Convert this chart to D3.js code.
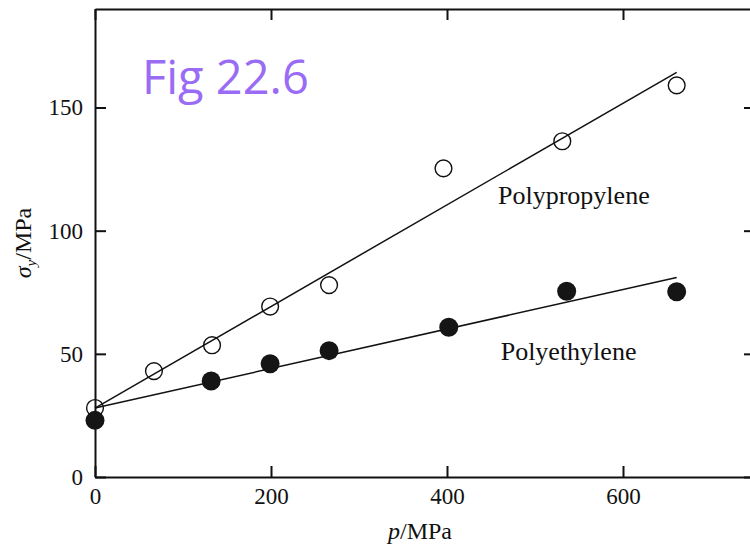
<!DOCTYPE html>
<html>
<head>
<meta charset="utf-8">
<script src="https://cdn.jsdelivr.net/npm/d3@7"></script>
<style>
  html, body { margin: 0; padding: 0; background: #fff; }
  svg { display: block; }
  .axis text { font-family: "Liberation Serif", "Times New Roman", serif; font-size: 23px; fill: #111; }
  .axis path, .axis line { stroke: #111; stroke-width: 2; }
</style>
</head>
<body>
<script>
// Yield stress vs. hydrostatic pressure
const pressurePP = [0, 67, 133, 199, 266, 396, 531, 661];
const stressPP   = [28, 43, 53.5, 69.2, 77.9, 125.3, 136.3, 159];
const pressurePE = [0, 132, 199, 266, 402, 536, 661];
const stressPE   = [23, 39, 46, 51.3, 60.8, 75.4, 75.2];

// Fitted straight lines (end points)
const fitPressure = [0, 661];
const fitPP = [28, 164.3];
const fitPE = [28, 81];

const xTicks = [0, 200, 400, 600];
const yTicks = [0, 50, 100, 150];

const W = 750, H = 548;
const plotLeft = 95, plotTop = 9, plotRight = 755, plotBottom = 477;

const svg = d3.select("body").append("svg")
  .attr("width", W).attr("height", H);

const x = d3.scaleLinear().domain([0, 750]).range([plotLeft, plotRight]);
const y = d3.scaleLinear().domain([0, 190]).range([plotBottom, plotTop]);

// Axes: ticks point inward on all four sides
svg.append("g").attr("class", "axis")
  .attr("transform", `translate(0,${plotBottom})`)
  .call(d3.axisBottom(x).tickValues(xTicks).tickSizeInner(-11).tickSizeOuter(0).tickPadding(11));

svg.append("g").attr("class", "axis")
  .attr("transform", `translate(${plotLeft},0)`)
  .call(d3.axisLeft(y).tickValues(yTicks).tickSizeInner(-11).tickSizeOuter(0).tickPadding(12));

svg.append("g").attr("class", "axis")
  .attr("transform", `translate(0,${plotTop})`)
  .call(d3.axisTop(x).tickValues(xTicks).tickSizeInner(-11).tickSizeOuter(0).tickFormat(""));

svg.append("g").attr("class", "axis")
  .attr("transform", `translate(${plotRight},0)`)
  .call(d3.axisRight(y).tickValues(yTicks).tickSizeInner(-11).tickSizeOuter(0).tickFormat(""));

// Fit lines
const line = d3.line().x(d => x(d[0])).y(d => y(d[1]));
[fitPP, fitPE].forEach(fit => {
  svg.append("path")
    .datum(fitPressure.map((p, i) => [p, fit[i]]))
    .attr("d", line)
    .attr("fill", "none")
    .attr("stroke", "#111")
    .attr("stroke-width", 1.5);
});

// Polypropylene: open circles
svg.append("g").selectAll("circle")
  .data(pressurePP.map((p, i) => [p, stressPP[i]]))
  .join("circle")
  .attr("cx", d => x(d[0])).attr("cy", d => y(d[1]))
  .attr("r", 8.4)
  .attr("fill", "none")
  .attr("stroke", "#111")
  .attr("stroke-width", 1.4);

// Polyethylene: filled circles
svg.append("g").selectAll("circle")
  .data(pressurePE.map((p, i) => [p, stressPE[i]]))
  .join("circle")
  .attr("cx", d => x(d[0])).attr("cy", d => y(d[1]))
  .attr("r", 9.5)
  .attr("fill", "#151515");

// Series labels
const serif = '"Liberation Serif", "Times New Roman", serif';
svg.append("text")
  .attr("x", x(458)).attr("y", y(111))
  .attr("font-family", serif).attr("font-size", 26)
  .attr("fill", "#111")
  .text("Polypropylene");

svg.append("text")
  .attr("x", x(461)).attr("y", y(47.4))
  .attr("font-family", serif).attr("font-size", 26)
  .attr("fill", "#111")
  .text("Polyethylene");

// Axis titles
const xt = svg.append("text")
  .attr("x", (plotLeft + plotRight) / 2 - 5).attr("y", 539)
  .attr("text-anchor", "middle")
  .attr("font-family", serif).attr("font-size", 24).attr("fill", "#111");
xt.append("tspan").attr("font-style", "italic").text("p");
xt.append("tspan").text("/MPa");

const yt = svg.append("text")
  .attr("transform", `translate(31,${(plotTop + plotBottom) / 2}) rotate(-90)`)
  .attr("text-anchor", "middle")
  .attr("font-family", serif).attr("font-size", 24).attr("fill", "#111");
yt.append("tspan").attr("font-style", "italic").text("σ");
yt.append("tspan").attr("font-style", "italic").attr("font-size", 15).attr("dy", 5).text("y");
yt.append("tspan").attr("dy", -5).text("/MPa");

// Figure tag
svg.append("text")
  .attr("x", 142).attr("y", 94)
  .attr("font-family", '"Open Sans", sans-serif')
  .attr("font-size", 47)
  .attr("fill", "#9a6cf5")
  .text("Fig 22.6");
</script>
</body>
</html>
